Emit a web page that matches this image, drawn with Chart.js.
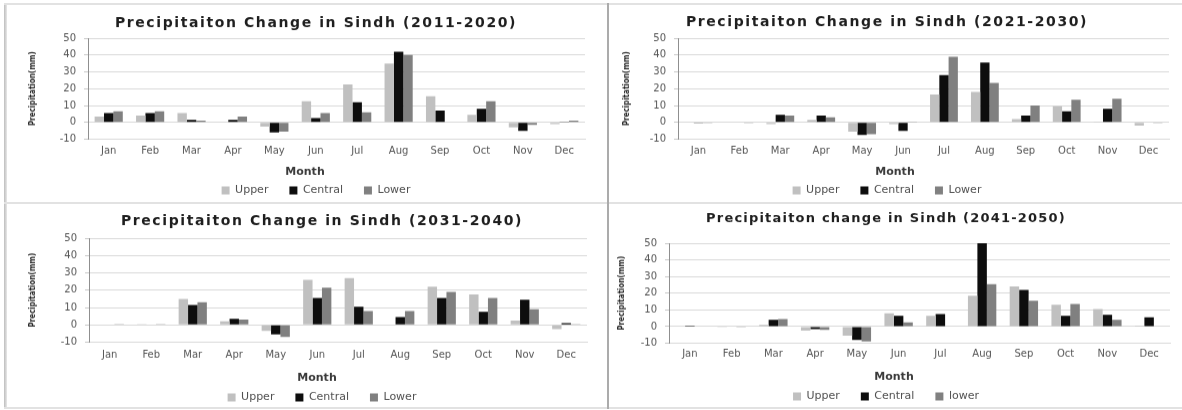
<!DOCTYPE html>
<html>
<head>
<meta charset="utf-8">
<title>Precipitation change in Sindh</title>
<script src="https://cdn.jsdelivr.net/npm/chart.js@4/dist/chart.umd.min.js"></script>
<style>
  html, body { margin: 0; padding: 0; background: #fff; }
  body { width: 1182px; height: 410px; position: relative; overflow: hidden; }
  canvas { position: absolute; }
  .rule { position: absolute; z-index: 2; }
</style>
</head>
<body>
<!-- frame around the four panels -->
<div class="rule" style="left:4px;top:3px;width:3px;height:406px;background:linear-gradient(to right,#bdbdbd,#e8e8e8)"></div>
<div class="rule" style="left:4px;top:3px;width:1178px;height:2px;background:#e2e2e2"></div>
<div class="rule" style="left:4px;top:202px;width:1178px;height:2px;background:#e2e2e2"></div>
<div class="rule" style="left:4px;top:407px;width:1178px;height:2px;background:#e2e2e2"></div>
<div class="rule" style="left:607px;top:3px;width:2px;height:406px;background:#ababab"></div>

<canvas id="c1"></canvas>
<canvas id="c2"></canvas>
<canvas id="c3"></canvas>
<canvas id="c4"></canvas>

<script>
// ---- data: monthly precipitation change (mm) per region ----
const months = ['Jan', 'Feb', 'Mar', 'Apr', 'May', 'Jun', 'Jul', 'Aug', 'Sep', 'Oct', 'Nov', 'Dec'];
const yTickValues = [-10, 0, 10, 20, 30, 40, 50];

const upper2011   = [3.5, 4, 5.5, 0.3, -2.5, 12.5, 22.5, 35, 15.5, 4.5, -3, -1];
const central2011 = [5.5, 5.5, 1.5, 1.5, -6, 2.5, 12, 42, 7, 8, -5, 0.5];
const lower2011   = [6.5, 6.5, 1, 3.5, -5.5, 5.5, 6, 40, 0.3, 12.5, -1.5, 1];

const upper2021   = [0.3, 0.3, -1, 1.5, -5.5, -1, 16.5, 18, 2, 9.5, 0.5, -2];
const central2021 = [-0.5, 0, 4.5, 4, -7.5, -5, 28, 35.5, 4, 6.5, 8, -0.3];
const lower2021   = [-0.5, -0.5, 4, 3, -7, 0.5, 39, 23.5, 10, 13.5, 14, -0.5];

const upper2031   = [0.3, 0.2, 15, 2, -3.5, 26, 27, 0.3, 22, 17.5, 2.5, -2.5];
const central2031 = [0.3, 0.3, 11.5, 3.5, -5.5, 15.5, 10.5, 4.5, 15.5, 7.5, 14.5, 1];
const lower2031   = [0.2, 0.2, 13, 3, -7, 21.5, 8, 8, 19, 15.5, 9, 0.5];

const upper2041   = [0.2, -0.5, 1, -2.5, -5.5, 8, 6.5, 18.5, 24, 13, 10.5, 0.5];
const central2041 = [0.5, -0.3, 4, -1.5, -8, 6.5, 7.5, 50, 22, 6.5, 7, 5.5];
const lower2041   = [-0.3, -0.5, 4.5, -2, -9, 2.5, 0.2, 25.5, 15.5, 13.5, 4, 0.2];

const seriesNames      = ['Upper', 'Central', 'Lower'];
const seriesNamesLower = ['Upper', 'Central', 'lower'];

// ---- styling ----
const barColors = ['#c0c0c0', '#0d0d0d', '#808080'];
const FONT = '"DejaVu Sans", "Liberation Sans", sans-serif';
const FONT_NARROW = '"DejaVu Sans Condensed", "Liberation Sans Narrow", "DejaVu Sans", sans-serif';
const LEGEND_PAD = 21;
const LEGEND_FONT = 11;

// Draws the horizontal axis caption ("Month") at a fixed spot of the panel.
const monthCaption = {
  id: 'monthCaption',
  afterDraw(chart, args, opts) {
    const ctx = chart.ctx;
    ctx.save();
    ctx.font = 'bold 11px ' + FONT;
    ctx.fillStyle = '#3a3a3a';
    ctx.textAlign = 'center';
    ctx.textBaseline = 'middle';
    ctx.fillText(opts.text, opts.x, opts.y);
    ctx.restore();
  }
};

// Widens the letter spacing of the chart title only.
const titleTracking = {
  id: 'titleTracking',
  afterLayout(chart, args, opts) {
    const block = chart.titleBlock;
    if (!block || block._tracked) return;
    const baseDraw = block.draw.bind(block);
    block.draw = function (area) {
      const ctx = chart.ctx;
      ctx.save();
      ctx.letterSpacing = opts.spacing;
      baseDraw(area);
      ctx.restore();
    };
    block._tracked = true;
  }
};

// Panel layout, in page pixels.
const panels = [
  { id: 'c1', title: 'Precipitaiton Change in Sindh (2011-2020)', titleSize: 14, tracking: '1.6px',
    data: [upper2011, central2011, lower2011], names: seriesNames,
    left: 8, plotL: 88, plotR: 585, plotT: 38, plotB: 139,
    titleY: 23, titleCX: 316, tickY: 151, monthY: 171, monthCX: 305, legendY: 190, yTitleX: 33 },
  { id: 'c2', title: 'Precipitaiton Change in Sindh (2021-2030)', titleSize: 14, tracking: '1.6px',
    data: [upper2021, central2021, lower2021], names: seriesNames,
    left: 600, plotL: 678, plotR: 1169, plotT: 38, plotB: 139,
    titleY: 22, titleCX: 887, tickY: 151, monthY: 171, monthCX: 895, legendY: 190, yTitleX: 627 },
  { id: 'c3', title: 'Precipitaiton Change in Sindh (2031-2040)', titleSize: 14, tracking: '1.6px',
    data: [upper2031, central2031, lower2031], names: seriesNames,
    left: 8, plotL: 89, plotR: 587, plotT: 238, plotB: 342,
    titleY: 221, titleCX: 322, tickY: 355, monthY: 377, monthCX: 317, legendY: 397, yTitleX: 33 },
  { id: 'c4', title: 'Precipitaiton change in Sindh (2041-2050)', titleSize: 13, tracking: '1.2px',
    data: [upper2041, central2041, lower2041], names: seriesNamesLower,
    left: 600, plotL: 669, plotR: 1170, plotT: 243, plotB: 343,
    titleY: 219, titleCX: 886, tickY: 354, monthY: 376, monthCX: 894, legendY: 396, yTitleX: 622 }
];

function buildPanel(p) {
  const canvas = document.getElementById(p.id);
  const top = p.titleY - 15;
  const titleLH = p.titleSize * 1.2;
  const padR = 10;
  const itemH = Math.max(LEGEND_FONT, 8);
  const width = p.plotR - p.left + padR;
  const height = p.legendY + 10 + itemH / 2 - top;
  const padL = 2 * (p.titleCX - p.left) - (p.plotR - p.left);
  const yWidth = p.plotL - p.left - padL;
  const xHeight = p.legendY - itemH / 2 - LEGEND_PAD - p.plotB;
  const yTitleLH = 8 * 1.2;

  canvas.width = width;
  canvas.height = height;
  canvas.style.left = p.left + 'px';
  canvas.style.top = top + 'px';
  canvas.style.width = width + 'px';
  canvas.style.height = height + 'px';

  new Chart(canvas, {
    type: 'bar',
    data: {
      labels: months,
      datasets: p.data.map((values, i) => ({
        label: p.names[i],
        data: values,
        backgroundColor: barColors[i],
        borderWidth: 0,
        categoryPercentage: 0.68,
        barPercentage: 1.0
      }))
    },
    options: {
      responsive: false,
      animation: false,
      devicePixelRatio: 1,
      layout: { padding: { left: padL, right: padR, top: 0, bottom: 0 } },
      plugins: {
        title: {
          display: true,
          text: p.title,
          color: '#1e1e1e',
          font: { family: FONT, size: p.titleSize, weight: 'bold' },
          padding: { top: 15 - titleLH / 2, bottom: p.plotT - p.titleY - titleLH / 2 }
        },
        legend: {
          position: 'bottom',
          labels: {
            boxWidth: 8, boxHeight: 8, padding: LEGEND_PAD,
            color: '#505050',
            font: { family: FONT, size: LEGEND_FONT }
          }
        },
        tooltip: { enabled: false },
        titleTracking: { spacing: p.tracking },
        monthCaption: { text: 'Month', x: p.monthCX - p.left, y: p.monthY - top }
      },
      scales: {
        x: {
          grid: { display: false, drawTicks: false },
          border: { display: true, color: '#d9d9d9' },
          ticks: {
            color: '#555', autoSkip: false, maxRotation: 0,
            padding: p.tickY - p.plotB - 6,
            font: { family: FONT, size: 10 }
          },
          afterFit(scale) { scale.height = xHeight; }
        },
        y: {
          min: -10, max: 50,
          afterBuildTicks(scale) { scale.ticks = yTickValues.map(v => ({ value: v })); },
          grid: { color: '#d9d9d9', lineWidth: 1, drawTicks: true, tickLength: 4, tickColor: '#c8c8c8' },
          border: { display: true, color: '#8f8f8f', width: 1 },
          ticks: {
            color: '#555', padding: 8,
            font: { family: FONT, size: 10 }
          },
          title: {
            display: true,
            text: 'Precipitation(mm)',
            color: '#2a2a2a',
            font: { family: FONT_NARROW, size: 8, weight: 'bold' },
            padding: { top: p.yTitleX - p.left - padL - yTitleLH / 2, bottom: 0 }
          },
          afterFit(scale) { scale.width = yWidth; }
        }
      }
    },
    plugins: [titleTracking, monthCaption]
  });
}

panels.forEach(buildPanel);
</script>
</body>
</html>
